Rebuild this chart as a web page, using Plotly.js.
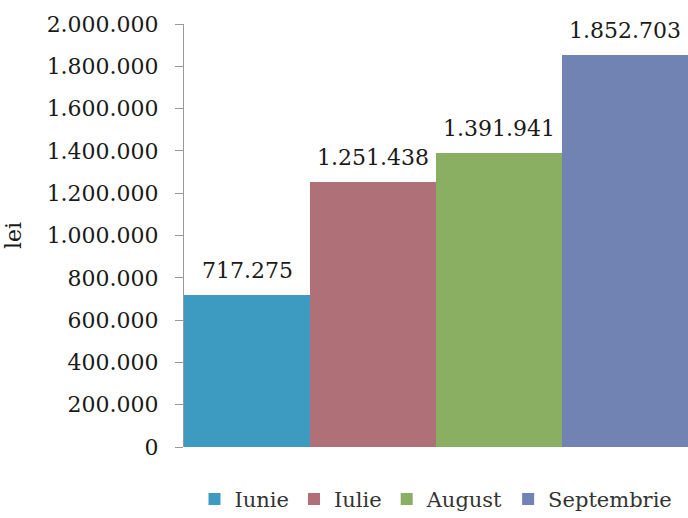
<!DOCTYPE html>
<html><head><meta charset="utf-8">
<script src="https://cdn.plot.ly/plotly-3.0.1.min.js"></script>
<style>html,body{margin:0;padding:0;background:#fff}#chart{width:688px;height:518px}</style>
</head><body><div id="chart"></div>
<script>
const months = ["Iunie", "Iulie", "August", "Septembrie"];
const values = [717275, 1251438, 1391941, 1852703];
const colors = ["#3d9bc1", "#b07078", "#8aae62", "#7083b3"];
const tickVals = [0, 200000, 400000, 600000, 800000, 1000000, 1200000, 1400000, 1600000, 1800000, 2000000];

const font = "DejaVu Serif, serif";
const traces = months.map((m, i) => ({
  type: "bar", name: m, x: [m], y: [values[i]],
  marker: {color: colors[i]}, hoverinfo: "skip"
}));
const annotations = months.map((m, i) => ({
  x: m, y: values[i], xref: "x", yref: "y",
  text: values[i].toLocaleString("de-DE"), showarrow: false,
  yanchor: "bottom", yshift: 10,
  font: {family: font, size: 22, color: "#1a1a1a"}
}));
Plotly.newPlot("chart", traces, {
  width: 688, height: 518,
  margin: {l: 184, r: 0, t: 24, b: 71, autoexpand: false},
  separators: ",.",
  barmode: "overlay", bargap: 0,
  paper_bgcolor: "#fff", plot_bgcolor: "#fff",
  showlegend: true,
  legend: {orientation: "h", x: 0.5, xanchor: "center", y: -0.075, yanchor: "top",
    font: {family: font, size: 21, color: "#333"}, itemwidth: 30, traceorder: "normal"},
  xaxis: {type: "category", categoryarray: months, range: [-0.5, 3.5],
    showticklabels: false, showgrid: false, zeroline: false, showline: false, ticks: ""},
  yaxis: {range: [0, 2000000], tickvals: tickVals, tickformat: ",d",
    showgrid: false, zeroline: false, showline: true, linecolor: "#999", linewidth: 1,
    ticks: "outside", ticklen: 8, tickcolor: "#999", ticklabelstandoff: 12,
    tickfont: {family: font, size: 22, color: "#1a1a1a"},
    title: {text: "lei", font: {family: font, size: 22, color: "#1a1a1a"}, standoff: 18}},
  annotations: annotations
}, {staticPlot: true});
</script></body></html>
